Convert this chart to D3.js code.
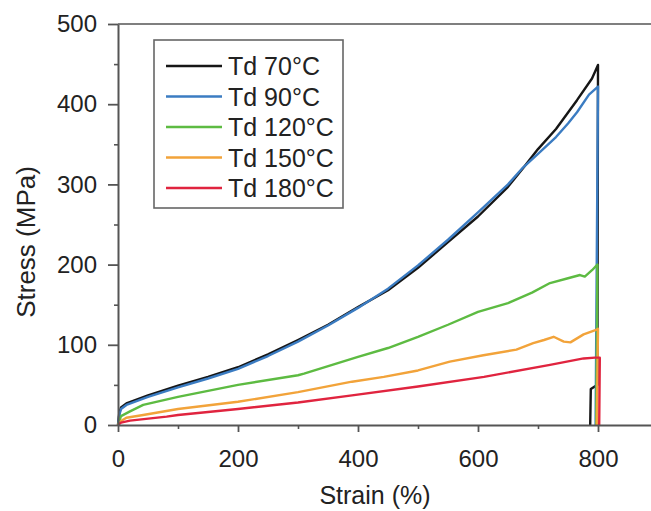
<!DOCTYPE html>
<html>
<head>
<meta charset="utf-8">
<script src="https://cdn.jsdelivr.net/npm/d3@7"></script>
<style>
  html, body { margin: 0; padding: 0; background: #fff; }
  svg { display: block; font-family: "Liberation Sans", Arial, Helvetica, sans-serif; }
</style>
</head>
<body>
<svg id="chart" width="651" height="511"></svg>
<script>
// Tensile curves: strain (%) vs stress (MPa) for each drawing temperature
const strain70 = [0, 2, 5, 14, 50, 100, 150, 200, 250, 300, 350, 400, 450, 500, 550, 600, 650, 675, 700, 730, 765, 790, 800, 799, 788, 787];
const stress70 = [0, 14, 22, 27, 37, 49, 60, 72, 88, 106, 125, 147, 168, 196, 228, 260, 297, 320, 344, 369, 405, 432, 449, 50, 45, 0];

const strain90 = [0, 2, 5, 14, 50, 100, 150, 200, 250, 300, 350, 400, 450, 500, 550, 600, 650, 675, 700, 730, 750, 765, 785, 800, 796];
const stress90 = [0, 12, 20, 25, 35, 47, 58, 70, 86, 104, 124, 146, 170, 199, 231, 265, 300, 321, 338, 359, 376, 390, 412, 422, 0];

const strain120 = [0, 5, 20, 42, 100, 200, 300, 310, 400, 450, 500, 550, 600, 650, 690, 720, 750, 770, 778, 790, 799, 797];
const stress120 = [0, 11, 17, 25, 35, 50, 62, 64, 85, 96, 110, 125, 141, 152, 165, 177, 183, 187, 185, 193, 200, 0];

const strain150 = [0, 5, 14, 42, 100, 200, 300, 390, 443, 500, 553, 609, 664, 692, 710, 726, 743, 754, 776, 798, 800, 798];
const stress150 = [0, 5, 9, 12.5, 20, 29, 41, 54, 60, 68, 79, 87, 94, 102, 106, 110, 104, 103, 113, 119, 120, 0];

const strain180 = [0, 5, 20, 81, 100, 200, 300, 390, 500, 610, 720, 776, 795, 803, 802];
const stress180 = [0, 3, 5.5, 10.4, 12.5, 20, 28, 37, 48, 60, 75, 83, 84, 84, 0];

const seriesNames = ["Td 70°C", "Td 90°C", "Td 120°C", "Td 150°C", "Td 180°C"];
const seriesColors = ["#161616", "#3b7cc2", "#5dbb42", "#f2a33a", "#e0243f"];

const xMajorTicks = [0, 200, 400, 600, 800];
const xMinorTicks = [100, 300, 500, 700];
const yMajorTicks = [0, 100, 200, 300, 400, 500];
const yMinorTicks = [50, 150, 250, 350, 450];

const series = [
  { strain: strain70, stress: stress70 },
  { strain: strain90, stress: stress90 },
  { strain: strain120, stress: stress120 },
  { strain: strain150, stress: stress150 },
  { strain: strain180, stress: stress180 }
].map((s, i) => ({
  name: seriesNames[i],
  color: seriesColors[i],
  points: s.strain.map((x, j) => [x, s.stress[j]])
}));

const svg = d3.select("#chart");
const axisColor = "#555";

const x = d3.scaleLinear().domain([0, 888.33]).range([118, 651]);
const y = d3.scaleLinear().domain([0, 500]).range([425, 24]);

// Frame top line
svg.append("line")
  .attr("x1", x(0)).attr("x2", 651)
  .attr("y1", y(500)).attr("y2", y(500))
  .attr("stroke", axisColor).attr("stroke-width", 1.6);

// Curves
const line = d3.line().x(d => x(d[0])).y(d => y(d[1]));
svg.append("g").selectAll("path")
  .data(series)
  .join("path")
  .attr("d", d => line(d.points))
  .attr("fill", "none")
  .attr("stroke", d => d.color)
  .attr("stroke-width", 2.4)
  .attr("stroke-linejoin", "round");

// Axes
function styleAxis(g) {
  g.select(".domain").attr("stroke", axisColor).attr("stroke-width", 2);
  g.selectAll(".tick line").attr("stroke", axisColor).attr("stroke-width", 1.8);
  g.selectAll(".tick text").attr("fill", "#222").attr("font-size", 24)
    .attr("font-family", "'Liberation Sans', Arial, Helvetica, sans-serif");
}

const xMinor = svg.append("g").attr("transform", `translate(0,${y(0)})`)
  .call(d3.axisBottom(x).tickValues(xMinorTicks).tickSize(4).tickFormat(""));
xMinor.select(".domain").remove();
xMinor.selectAll(".tick line").attr("stroke", axisColor).attr("stroke-width", 1.6);

const xAxis = svg.append("g").attr("transform", `translate(0,${y(0)})`)
  .call(d3.axisBottom(x).tickValues(xMajorTicks).tickSize(7).tickSizeOuter(0).tickPadding(18));
styleAxis(xAxis);

const yMinor = svg.append("g").attr("transform", `translate(${x(0)},0)`)
  .call(d3.axisLeft(y).tickValues(yMinorTicks).tickSize(4).tickFormat(""));
yMinor.select(".domain").remove();
yMinor.selectAll(".tick line").attr("stroke", axisColor).attr("stroke-width", 1.6);

const yAxis = svg.append("g").attr("transform", `translate(${x(0)},0)`)
  .call(d3.axisLeft(y).tickValues(yMajorTicks).tickSize(10).tickSizeOuter(0).tickPadding(11));
styleAxis(yAxis);

// Axis titles
svg.append("text")
  .attr("x", 375).attr("y", 504)
  .attr("text-anchor", "middle")
  .attr("font-size", 25).attr("fill", "#222")
  .text("Strain (%)");

svg.append("text")
  .attr("transform", "translate(35,242) rotate(-90)")
  .attr("text-anchor", "middle")
  .attr("font-size", 26).attr("fill", "#222")
  .text("Stress (MPa)");

// Legend
const legend = svg.append("g");
legend.append("rect")
  .attr("x", 154).attr("y", 40).attr("width", 189).attr("height", 168)
  .attr("fill", "#fff").attr("stroke", "#666").attr("stroke-width", 1.6);

const rowY = d3.scaleLinear().domain([0, 4]).range([66, 188]);
const rows = legend.selectAll("g.row").data(series).join("g")
  .attr("transform", (d, i) => `translate(0,${rowY(i)})`);
rows.append("line")
  .attr("x1", 166).attr("x2", 222).attr("y1", 0).attr("y2", 0)
  .attr("stroke", d => d.color).attr("stroke-width", 2.6);
rows.append("text")
  .attr("x", 228).attr("y", 9)
  .attr("font-size", 25).attr("fill", "#222")
  .text(d => d.name);
</script>
</body>
</html>
